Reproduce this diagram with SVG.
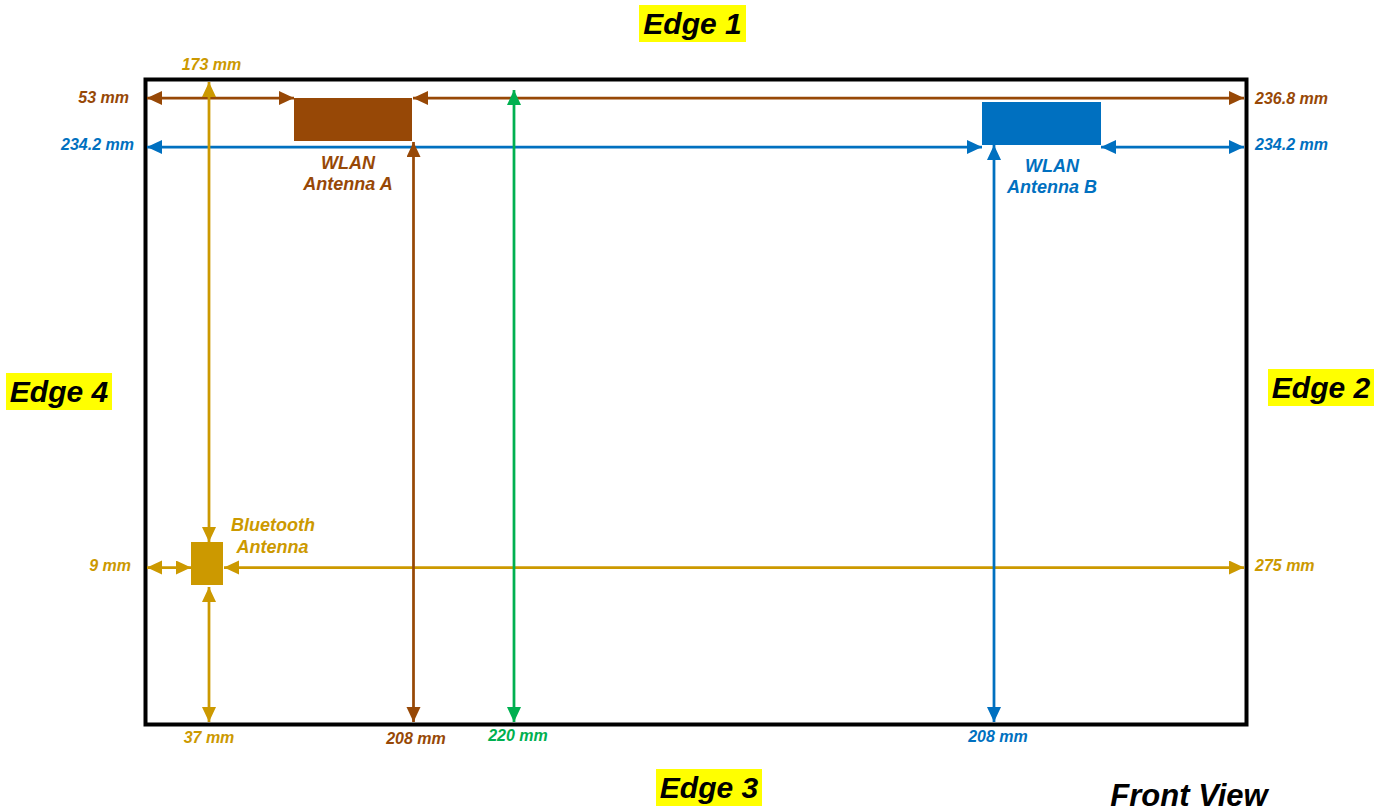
<svg xmlns="http://www.w3.org/2000/svg" width="1390" height="812" viewBox="0 0 1390 812">
<style>
.t{font-family:"Liberation Sans",Arial,sans-serif;font-weight:bold;font-style:italic}
.dim{font-size:16px}
.lbl{font-size:18px;text-anchor:middle}
.edge{font-size:30px;fill:#000}
.hl{fill:#FFFF00}
.brown{fill:#974806}
.gold{fill:#CC9900}
.blue{fill:#0070C0}
.green{fill:#00B050}
.ln{stroke-width:2.75;fill:none}
</style>
<defs>
<marker id="aBr" markerUnits="userSpaceOnUse" markerWidth="16" markerHeight="15" refX="15" refY="7" orient="auto-start-reverse"><path d="M0,0 L15,7 L0,14 z" fill="#974806"/></marker>
<marker id="aGo" markerUnits="userSpaceOnUse" markerWidth="16" markerHeight="15" refX="15" refY="7" orient="auto-start-reverse"><path d="M0,0 L15,7 L0,14 z" fill="#CC9900"/></marker>
<marker id="aBl" markerUnits="userSpaceOnUse" markerWidth="16" markerHeight="15" refX="15" refY="7" orient="auto-start-reverse"><path d="M0,0 L15,7 L0,14 z" fill="#0070C0"/></marker>
<marker id="aGr" markerUnits="userSpaceOnUse" markerWidth="16" markerHeight="15" refX="15" refY="7" orient="auto-start-reverse"><path d="M0,0 L15,7 L0,14 z" fill="#00B050"/></marker>
</defs>
<rect width="1390" height="812" fill="#fff"/>
<g id="frame"><rect x="145.5" y="79.5" width="1101" height="645" fill="none" stroke="#000" stroke-width="4"/></g>

<g id="connectors">
<line class="ln" stroke="#974806" x1="147" y1="98" x2="294" y2="98" marker-start="url(#aBr)" marker-end="url(#aBr)"/>
<line class="ln" stroke="#974806" x1="413" y1="98" x2="1244" y2="98" marker-start="url(#aBr)" marker-end="url(#aBr)"/>
<line class="ln" stroke="#0070C0" x1="147" y1="147" x2="982" y2="147" marker-start="url(#aBl)" marker-end="url(#aBl)"/>
<line class="ln" stroke="#0070C0" x1="1101" y1="147" x2="1244" y2="147" marker-start="url(#aBl)" marker-end="url(#aBl)"/>
<line class="ln" stroke="#CC9900" x1="209" y1="82" x2="209" y2="542" marker-start="url(#aGo)" marker-end="url(#aGo)"/>
<line class="ln" stroke="#CC9900" x1="209" y1="587" x2="209" y2="722" marker-start="url(#aGo)" marker-end="url(#aGo)"/>
<line class="ln" stroke="#CC9900" x1="147" y1="567.5" x2="191" y2="567.5" marker-start="url(#aGo)" marker-end="url(#aGo)"/>
<line class="ln" stroke="#CC9900" x1="224" y1="567.5" x2="1244" y2="567.5" marker-start="url(#aGo)" marker-end="url(#aGo)"/>
<line class="ln" stroke="#974806" x1="413.5" y1="142" x2="413.5" y2="722" marker-start="url(#aBr)" marker-end="url(#aBr)"/>
<line class="ln" stroke="#00B050" x1="514" y1="90" x2="514" y2="722" marker-start="url(#aGr)" marker-end="url(#aGr)"/>
<line class="ln" stroke="#0070C0" x1="994" y1="145" x2="994" y2="722" marker-start="url(#aBl)" marker-end="url(#aBl)"/>
</g>

<g id="wlanA">
<rect x="294" y="98" width="118" height="43" fill="#974806"/>
<text class="t lbl brown" x="348" y="168.5">WLAN</text>
<text class="t lbl brown" x="348" y="189.5">Antenna A</text>
</g>
<g id="wlanB">
<rect x="982" y="102" width="119" height="43" fill="#0070C0"/>
<text class="t lbl blue" x="1052" y="172">WLAN</text>
<text class="t lbl blue" x="1052" y="193">Antenna B</text>
</g>
<g id="bluetooth">
<rect x="191" y="542" width="32" height="43" fill="#CC9900"/>
<text class="t lbl gold" x="273" y="531">Bluetooth</text>
<text class="t lbl gold" x="272.5" y="552.5">Antenna</text>
</g>

<g id="dimLabels">
<text class="t dim gold" x="211.5" y="70" text-anchor="middle">173 mm</text>
<text class="t dim brown" x="129" y="102.5" text-anchor="end">53 mm</text>
<text class="t dim blue" x="134" y="149.5" text-anchor="end">234.2 mm</text>
<text class="t dim gold" x="131" y="570.5" text-anchor="end">9 mm</text>
<text class="t dim brown" x="1255" y="103.5">236.8 mm</text>
<text class="t dim blue" x="1255" y="150">234.2 mm</text>
<text class="t dim gold" x="1255" y="570.5">275 mm</text>
<text class="t dim gold" x="209" y="743" text-anchor="middle">37 mm</text>
<text class="t dim brown" x="416" y="744" text-anchor="middle">208 mm</text>
<text class="t dim green" x="518" y="741" text-anchor="middle">220 mm</text>
<text class="t dim blue" x="998" y="742" text-anchor="middle">208 mm</text>
</g>

<g id="edge1"><rect class="hl" x="639" y="5" width="107" height="37"/><text class="t edge" x="692.5" y="33.5" text-anchor="middle">Edge 1</text></g>
<g id="edge2"><rect class="hl" x="1268" y="369" width="106" height="37"/><text class="t edge" x="1321" y="397.5" text-anchor="middle">Edge 2</text></g>
<g id="edge3"><rect class="hl" x="656" y="769" width="106" height="37"/><text class="t edge" x="709" y="797.5" text-anchor="middle">Edge 3</text></g>
<g id="edge4"><rect class="hl" x="6" y="373" width="106" height="37"/><text class="t edge" x="59" y="401.5" text-anchor="middle">Edge 4</text></g>
<g id="frontView"><text class="t edge" x="1189" y="806" text-anchor="middle" style="font-size:31px">Front View</text></g>
</svg>
